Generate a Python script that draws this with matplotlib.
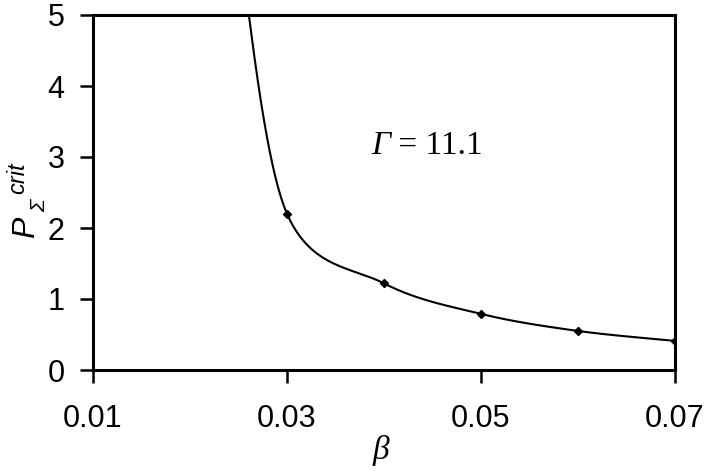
import numpy as np
import matplotlib
matplotlib.use("Agg")
import matplotlib.pyplot as plt

plt.rcParams['font.family'] = ['Liberation Sans', 'DejaVu Sans']

# data (the first point lies above the visible range)
beta = [0.0252, 0.03, 0.04, 0.05, 0.06, 0.07]
p_crit = [5.85, 2.2, 1.22, 0.79, 0.55, 0.41]
xticks = [0.01, 0.03, 0.05, 0.07]
yticks = [0, 1, 2, 3, 4, 5]


def smooth(x, y, n=60):
    x = np.asarray(x, float)
    y = np.asarray(y, float)
    px = np.concatenate([[x[0]], x, [x[-1]]])
    py = np.concatenate([[y[0]], y, [y[-1]]])
    xs, ys = [], []
    t = np.linspace(0, 1, n)
    for i in range(1, len(px) - 2):
        p0 = np.array([px[i], py[i]])
        p3 = np.array([px[i + 1], py[i + 1]])
        c1 = p0 + (np.array([px[i + 1], py[i + 1]]) - np.array([px[i - 1], py[i - 1]])) / 6
        c2 = p3 - (np.array([px[i + 2], py[i + 2]]) - np.array([px[i], py[i]])) / 6
        b = ((1 - t) ** 3)[:, None] * p0 + (3 * (1 - t) ** 2 * t)[:, None] * c1 \
            + (3 * (1 - t) * t ** 2)[:, None] * c2 + (t ** 3)[:, None] * p3
        xs.append(b[:, 0]); ys.append(b[:, 1])
    return np.concatenate(xs), np.concatenate(ys)


W, H = 708, 472
fig = plt.figure(figsize=(W / 100, H / 100), dpi=100)
ax = fig.add_axes([93 / W, 1 - 370 / H, (675 - 93) / W, (370 - 15) / H])

sx, sy = smooth(beta, p_crit)
ax.plot(sx, sy, color='black', lw=1.5)
ax.plot(beta, p_crit, linestyle='none', marker='D', ms=4.5, color='black')

ax.set_xlim(0.01, 0.07)
ax.set_ylim(0, 5)
ax.set_xticks(xticks)
ax.set_xticklabels([f"{v:.2f}" for v in xticks])
ax.set_yticks(yticks)
ax.set_yticklabels([str(v) for v in yticks])

for s in ax.spines.values():
    s.set_linewidth(2.2)
ax.tick_params(axis='both', direction='out', width=1.8, length=9.5, labelsize=22, colors='black')
ax.tick_params(axis='x', pad=15)
ax.tick_params(axis='y', pad=11)

# x label
fig.text(381 / W, 1 - 466 / H, 'β', fontsize=24, family='Liberation Serif',
         style='italic', ha='center', va='bottom')

# y label built from pieces: P, subscript Sigma, superscript crit
kw = dict(rotation=90, rotation_mode='anchor', ha='left', va='baseline',
          style='italic', family=['Liberation Sans', 'DejaVu Sans'])
fig.text(34 / W, 1 - 238 / H, 'P', fontsize=23, **kw)
fig.text(45 / W, 1 - 212 / H, 'Σ', fontsize=15, **kw)
fig.text(24 / W, 1 - 194 / H, 'crit', fontsize=17, **kw)

# annotation
g = ax.text(0.01 + (371 - 93) / 9700, (370 - 154) / 71, 'Γ', fontsize=24,
            family='Liberation Serif', style='italic', ha='left', va='baseline')
ax.annotate(' = 11.1', xy=(1, 0), xycoords=g, fontsize=24,
            family='Liberation Serif', ha='left', va='bottom')

fig.savefig('out.png', dpi=100)
